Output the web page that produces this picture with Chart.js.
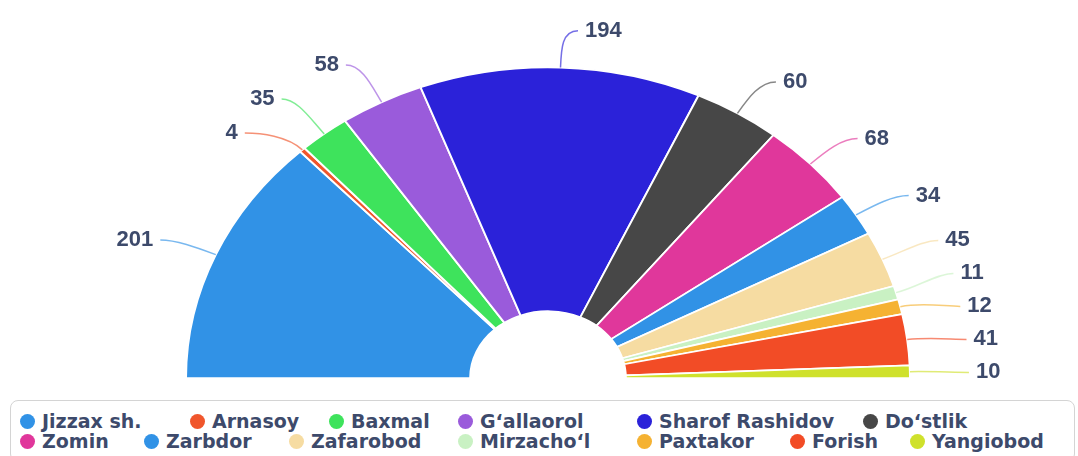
<!DOCTYPE html>
<html>
<head>
<meta charset="utf-8">
<script src="https://cdn.jsdelivr.net/npm/chart.js@4.4.1/dist/chart.umd.min.js"></script>
<style>
  body { margin: 0; background: #fff; width: 1078px; height: 456px; overflow: hidden; position: relative; }
  #chart { position: absolute; left: 0; top: 0; }
  #legend { position: absolute; left: 10px; top: 400px; width: 1065px; height: 62px; box-sizing: border-box;
            border: 1px solid #d4d4d4; border-radius: 8px; }
  .item { position: absolute; display: flex; align-items: center; white-space: nowrap;
          font: bold 19px "DejaVu Sans", sans-serif; color: #3d4a6b; line-height: 20px; }
  .dot { width: 15px; height: 15px; border-radius: 50%; margin-right: 7px; flex: none; }
</style>
</head>
<body>
<canvas id="chart" width="1078" height="400" style="width:1078px;height:400px"></canvas>
<div id="legend"></div>
<script>
const districts = ['Jizzax sh.', 'Arnasoy', 'Baxmal', 'G‘allaorol', 'Sharof Rashidov', 'Do‘stlik',
  'Zomin', 'Zarbdor', 'Zafarobod', 'Mirzacho‘l', 'Paxtakor', 'Forish', 'Yangiobod'];
const counts = [201, 4, 35, 58, 194, 60, 68, 34, 45, 11, 12, 41, 10];
const colors = ['#3192e6', '#f0562c', '#3ee35c', '#9a5bdb', '#2b22d9', '#474747', '#e0379b',
  '#3192e6', '#f6dca2', '#c9f1c3', '#f5b232', '#f24c26', '#cfe12c'];

// the half ring is drawn tilted (flattened vertically), text stays upright
const tilt = 0.858;
const labelColor = '#3d4a6b';

const tiltPlugin = {
  id: 'tilt',
  beforeDatasetsDraw(chart) {
    const arc = chart.getDatasetMeta(0).data[0];
    const ctx = chart.ctx;
    ctx.save();
    ctx.translate(0, arc.y);
    ctx.scale(1, tilt);
    ctx.translate(0, -arc.y);
  },
  afterDatasetsDraw(chart) {
    chart.ctx.restore();
  }
};

// push labels apart on one side so they keep a minimum vertical gap
function spread(list, gap) {
  list.sort((a, b) => a.ny - b.ny);
  let groups = list.map(l => ({ items: [l], top: l.ny }));
  let merged = true;
  while (merged) {
    merged = false;
    for (let k = 0; k < groups.length - 1; k++) {
      const a = groups[k], b = groups[k + 1];
      if (a.top + a.items.length * gap > b.top) {
        const items = a.items.concat(b.items);
        const mean = items.reduce((s, l) => s + l.ny, 0) / items.length;
        groups.splice(k, 2, { items, top: mean - (items.length - 1) * gap / 2 });
        merged = true;
        break;
      }
    }
  }
  groups.forEach(g => g.items.forEach((l, j) => { l.ty = g.top + j * gap; }));
}

const labelPlugin = {
  id: 'sliceLabels',
  afterDatasetsDraw(chart) {
    const meta = chart.getDatasetMeta(0);
    const ctx = chart.ctx;
    const R = 405;
    const list = meta.data.map((arc, i) => {
      const mid = (arc.startAngle + arc.endAngle) / 2;
      const cos = Math.cos(mid), sin = Math.sin(mid);
      return {
        i, cos, sin, cx: arc.x, cy: arc.y, r: arc.outerRadius,
        right: cos >= 0 || i === 4,
        ny: arc.y + R * sin * tilt
      };
    });
    spread(list.filter(l => !l.right), 34);
    spread(list.filter(l => l.right), 33);

    ctx.save();
    ctx.font = 'bold 22px "Liberation Sans", Arial, sans-serif';
    ctx.textBaseline = 'middle';
    list.forEach(l => {
      const dir = l.right ? 1 : -1;
      const ex = l.cx + l.r * l.cos, ey = l.cy + l.r * l.sin * tilt;
      const dyU = (l.ty - l.cy) / tilt;
      const bx = l.cx + dir * Math.sqrt(Math.max(R * R - dyU * dyU, (R * l.cos) * (R * l.cos)));
      const tx = bx + dir * 16;
      ctx.strokeStyle = colors[l.i];
      ctx.globalAlpha = 0.65;
      ctx.lineWidth = 1.5;
      ctx.beginPath();
      ctx.moveTo(ex, ey);
      ctx.bezierCurveTo(ex + l.cos * 22, ey + l.sin * 22 * tilt, bx, l.ty, tx, l.ty);
      ctx.stroke();
      ctx.globalAlpha = 1;
      ctx.fillStyle = labelColor;
      ctx.textAlign = l.right ? 'left' : 'right';
      ctx.fillText(String(counts[l.i]), tx + dir * 7, l.ty);
    });
    ctx.restore();
  }
};

new Chart(document.getElementById('chart'), {
  type: 'doughnut',
  data: {
    labels: districts,
    datasets: [{
      data: counts,
      backgroundColor: colors,
      borderColor: '#ffffff',
      borderWidth: 2
    }]
  },
  options: {
    responsive: false,
    animation: false,
    rotation: -90,
    circumference: 180,
    cutout: '21.5%',
    layout: { padding: { left: 18, right: 0, top: 15, bottom: 21 } },
    plugins: {
      legend: { display: false },
      tooltip: { enabled: false }
    }
  },
  plugins: [tiltPlugin, labelPlugin]
});

// legend in two rows, as in the original
const legendRows = [[0, 1, 2, 3, 4, 5], [6, 7, 8, 9, 10, 11, 12]];
const legendX = [[28, 198, 337, 466, 645, 871], [28, 152, 297, 466, 645, 798, 918]];
const legend = document.getElementById('legend');
legendRows.forEach((row, r) => {
  row.forEach((idx, c) => {
    const item = document.createElement('div');
    item.className = 'item';
    item.style.left = (legendX[r][c] - 8 - 11) + 'px';
    item.style.top = (10 + r * 20) + 'px';
    const dot = document.createElement('span');
    dot.className = 'dot';
    dot.style.background = colors[idx];
    item.appendChild(dot);
    item.appendChild(document.createTextNode(districts[idx]));
    legend.appendChild(item);
  });
});
</script>
</body>
</html>
